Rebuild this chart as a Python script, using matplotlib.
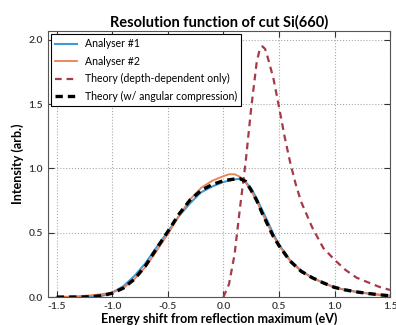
import numpy as np
import matplotlib
matplotlib.use('Agg')
import matplotlib.pyplot as plt

plt.rcParams['font.family'] = ['Lato', 'DejaVu Sans']

# Analyser #1 (measured)
x_a1 = [-1.5, -1.2, -1.1, -1.0, -0.9, -0.8, -0.7, -0.6, -0.5, -0.4, -0.3, -0.2,
        -0.1, 0.0, 0.1, 0.15, 0.2, 0.25, 0.3, 0.35, 0.4, 0.45, 0.5, 0.6, 0.7,
        0.8, 0.9, 1.0, 1.1, 1.2, 1.3, 1.4, 1.5]
y_a1 = [0.0, 0.0, 0.008, 0.035, 0.085, 0.165, 0.265, 0.39, 0.51, 0.63, 0.73, 0.815,
        0.86, 0.895, 0.915, 0.92, 0.895, 0.845, 0.765, 0.675, 0.585, 0.49, 0.41, 0.285, 0.205,
        0.15, 0.11, 0.075, 0.055, 0.04, 0.028, 0.018, 0.01]

# Analyser #2 (measured)
x_a2 = [-1.5, -1.4, -1.3, -1.2, -1.1, -1.0, -0.9, -0.8, -0.7, -0.6, -0.5, -0.4,
        -0.3, -0.2, -0.1, 0.0, 0.05, 0.1, 0.15, 0.2, 0.25, 0.3, 0.35, 0.4, 0.45,
        0.5, 0.6, 0.7, 0.8, 0.9, 1.0, 1.1, 1.2, 1.3, 1.4, 1.5]
y_a2 = [0.0, 0.003, 0.007, 0.013, 0.022, 0.035, 0.07, 0.14, 0.235, 0.36, 0.49, 0.63,
        0.76, 0.85, 0.905, 0.94, 0.955, 0.955, 0.935, 0.89, 0.825, 0.745, 0.65, 0.56, 0.475,
        0.40, 0.28, 0.20, 0.15, 0.11, 0.075, 0.055, 0.04, 0.028, 0.018, 0.01]

# Theory (depth-dependent only)
x_th1 = [0.0, 0.05, 0.1, 0.15, 0.2, 0.25, 0.3, 0.325, 0.35, 0.375, 0.4, 0.45, 0.5,
         0.55, 0.6, 0.65, 0.7, 0.8, 0.9, 1.0, 1.1, 1.2, 1.3, 1.4, 1.5]
y_th1 = [0.0, 0.1, 0.33, 0.70, 1.05, 1.47, 1.83, 1.92, 1.95, 1.93, 1.86, 1.70, 1.48,
         1.25, 1.05, 0.88, 0.74, 0.54, 0.38, 0.29, 0.21, 0.15, 0.115, 0.08, 0.055]

# Theory (w/ angular compression)
x_th2 = [-1.5, -1.3, -1.2, -1.1, -1.0, -0.9, -0.8, -0.7, -0.6, -0.5, -0.4, -0.3,
         -0.2, -0.1, 0.0, 0.1, 0.15, 0.2, 0.25, 0.3, 0.35, 0.4, 0.45, 0.5, 0.6,
         0.7, 0.8, 0.9, 1.0, 1.1, 1.2, 1.3, 1.4, 1.5]
y_th2 = [0.0, 0.0, 0.002, 0.01, 0.03, 0.07, 0.14, 0.245, 0.38, 0.51, 0.645, 0.755,
         0.83, 0.875, 0.905, 0.918, 0.92, 0.90, 0.83, 0.75, 0.65, 0.56, 0.47, 0.40, 0.28,
         0.20, 0.15, 0.11, 0.075, 0.055, 0.04, 0.028, 0.018, 0.01]

fig = plt.figure(figsize=(3.96, 3.25), dpi=100)
ax = fig.add_axes([0.121, 0.086, 0.864, 0.819])

ax.plot(x_a1, y_a1, '-', color='#3E9AD6', linewidth=1.5, label='Analyser #1')
ax.plot(x_a2, y_a2, '-', color='#E9804F', linewidth=1.3, label='Analyser #2')
ax.plot(x_th1, y_th1, '--', color='#A63A48', linewidth=1.6, dashes=(3, 2.2),
        label='Theory (depth-dependent only)')
ax.plot(x_th2, y_th2, '--', color='black', linewidth=2.4, dashes=(2.2, 1.5),
        label='Theory (w/ angular compression)')

ax.set_xlim(-1.58, 1.5)
ax.set_ylim(0, 2.07)
ax.set_xticks([-1.5, -1.0, -0.5, 0.0, 0.5, 1.0, 1.5])
ax.set_yticks([0.0, 0.5, 1.0, 1.5, 2.0])
ax.xaxis.set_major_formatter(matplotlib.ticker.FormatStrFormatter('%.1f'))
ax.yaxis.set_major_formatter(matplotlib.ticker.FormatStrFormatter('%.1f'))
ax.tick_params(direction='in', top=True, right=True, length=4, labelsize=7.5, colors='#333333')
for lbl in ax.get_xticklabels() + ax.get_yticklabels():
    lbl.set_fontweight('semibold')
ax.grid(True, linestyle=':', color='#aaaaaa', linewidth=0.8)
for s in ax.spines.values():
    s.set_color('#555555')

ax.set_title('Resolution function of cut Si(660)', fontsize=10.5, fontweight='bold', pad=3)
ax.set_xlabel('Energy shift from reflection maximum (eV)', fontsize=9, fontweight='bold', labelpad=1)
ax.set_ylabel('Intensity (arb.)', fontsize=9, fontweight='bold', labelpad=3)

leg = ax.legend(loc='upper left', fontsize=7.6, fancybox=False, framealpha=1,
                edgecolor='black', borderaxespad=0.3, handlelength=2.1, handletextpad=0.7,
                labelspacing=0.62, borderpad=0.4)
leg.get_frame().set_linewidth(0.8)

plt.savefig('out.png', dpi=100)
plt.close()
